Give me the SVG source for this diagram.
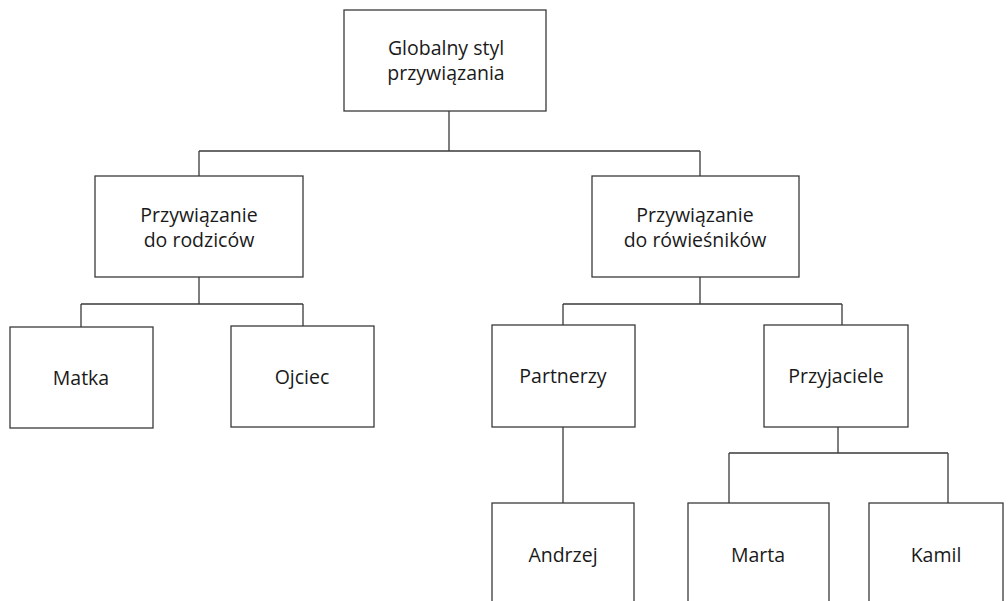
<svg xmlns="http://www.w3.org/2000/svg" width="1008" height="601" viewBox="0 0 1008 601">
<style>
.box{fill:#fff;stroke:#3a3a3a;stroke-width:1.3}
.ln{fill:none;stroke:#3a3a3a;stroke-width:1.3}
text{font-family:"Open Sans","Noto Sans","Liberation Sans",sans-serif;font-size:19.5px;fill:#1a1a1a;text-anchor:middle}
</style>
<rect width="1008" height="601" fill="#fff"/>
<g id="connectors">
<path class="ln" d="M449 111V151M199 151H700M199 151V176M700 151V176"/>
<path class="ln" d="M199 277V304M81 304H303M81 304V327M303 304V326"/>
<path class="ln" d="M700 277V304M563 304H842M563 304V325M842 304V325"/>
<path class="ln" d="M563 427V503"/>
<path class="ln" d="M838 427V453M729 453H948M729 453V503M948 453V503"/>
</g>
<g id="n-global"><rect class="box" x="344" y="10" width="202" height="101"/><text x="446" y="55">Globalny styl</text><text x="446" y="80">przywiązania</text></g>
<g id="n-rodzice"><rect class="box" x="95" y="176" width="208" height="101"/><text x="199" y="222">Przywiązanie</text><text x="199" y="247">do rodziców</text></g>
<g id="n-rowiesnicy"><rect class="box" x="592" y="176" width="207" height="101"/><text x="695" y="222">Przywiązanie</text><text x="695" y="247">do rówieśników</text></g>
<g id="n-matka"><rect class="box" x="10" y="327" width="143" height="101"/><text x="81" y="385">Matka</text></g>
<g id="n-ojciec"><rect class="box" x="231" y="326" width="143" height="101"/><text x="302" y="384">Ojciec</text></g>
<g id="n-partnerzy"><rect class="box" x="492" y="325" width="143" height="102"/><text x="563" y="383">Partnerzy</text></g>
<g id="n-przyjaciele"><rect class="box" x="764" y="325" width="144" height="102"/><text x="836" y="383">Przyjaciele</text></g>
<g id="n-andrzej"><rect class="box" x="492" y="503" width="142" height="110"/><text x="563" y="562">Andrzej</text></g>
<g id="n-marta"><rect class="box" x="688" y="503" width="141" height="110"/><text x="758" y="562">Marta</text></g>
<g id="n-kamil"><rect class="box" x="869" y="503" width="134" height="110"/><text x="936" y="562">Kamil</text></g>
</svg>
